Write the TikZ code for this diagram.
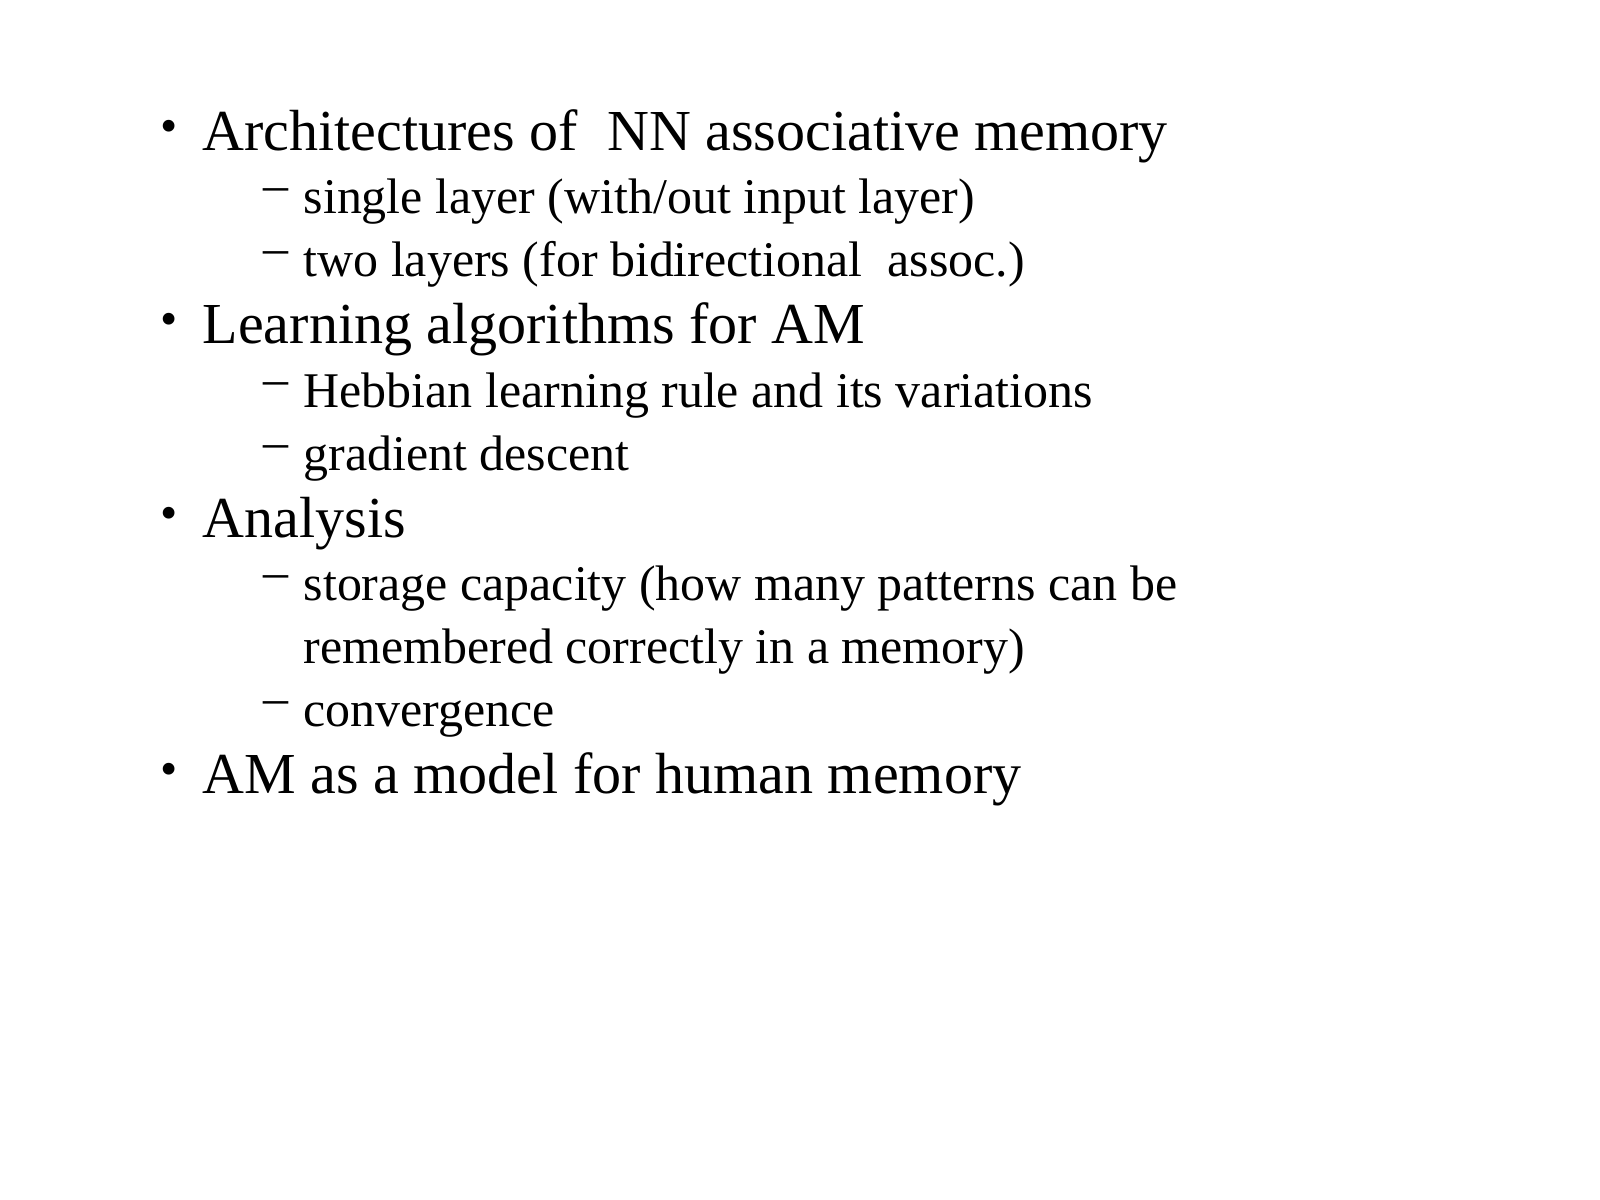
\documentclass[tikz,border=0pt]{standalone}
\usepackage{fontspec}
\setmainfont{Liberation Serif}
\begin{document}
\begin{tikzpicture}[x=0.01cm,y=-0.01cm,
  main/.style={anchor=base west,inner sep=0pt,font=\fontsize{16.5}{18}\selectfont},
  sub/.style={anchor=base west,inner sep=0pt,font=\fontsize{14.2}{16}\selectfont},
  bul/.style={anchor=base west,inner sep=0pt,font=\fontsize{14}{16}\selectfont},
  dsh/.style={anchor=base west,inner sep=0pt,font=\fontsize{14.2}{16}\selectfont}]
\useasboundingbox (0,0) rectangle (1600,1200);
\foreach \n/\y in {b1/150,b2/343,b3/537,b4/793}{\node[bul] (\n) at (160,\y-8) {•};}
\foreach \n/\y in {d1/213,d2/276,d3/407,d4/470,d5/600,d6/726}{\node[dsh] (\n) at (263,\y-12) {–};}
\node[main] (t1) at (202,150) {Architectures of\ \ NN associative memory};
\node[sub] (s1) at (303,213) {single layer (with/out input layer)};
\node[sub] (s2) at (303,276) {two layers (for bidirectional\ \ assoc.)};
\node[main] (t2) at (202,343) {Learning algorithms for AM};
\node[sub] (s3) at (303,407) {Hebbian learning rule and its variations};
\node[sub] (s4) at (303,470) {gradient descent};
\node[main] (t3) at (202,537) {Analysis};
\node[sub] (s5) at (303,600) {storage capacity (how many patterns can be};
\node[sub] (s6) at (303,663) {remembered correctly in a memory)};
\node[sub] (s7) at (303,726) {convergence};
\node[main] (t4) at (202,793) {AM as a model for human memory};
\end{tikzpicture}
\end{document}
